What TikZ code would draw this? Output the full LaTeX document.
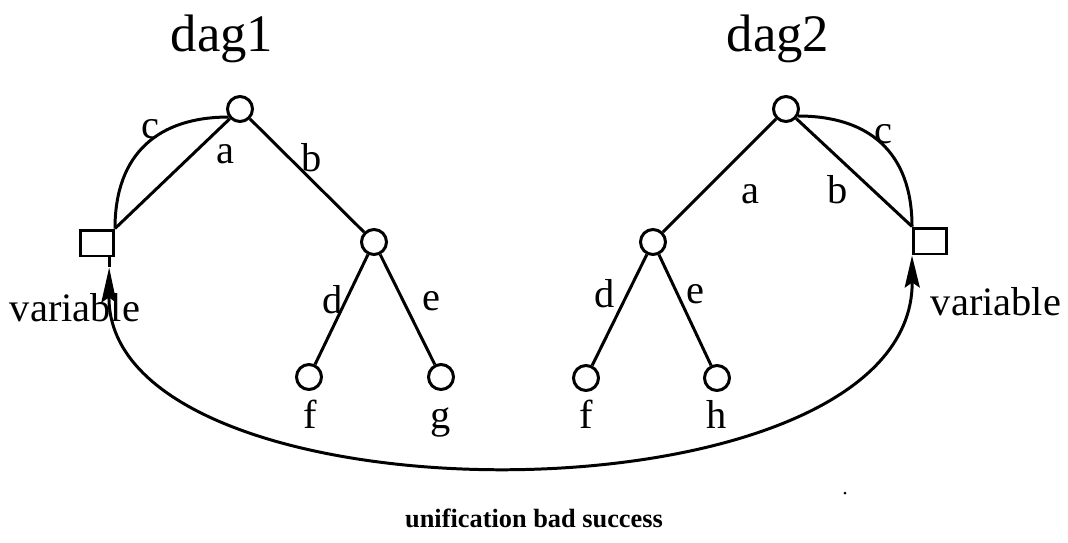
\documentclass[tikz,border=0pt]{standalone}
\usepackage{fontspec}
\setmainfont{Liberation Serif}
\usetikzlibrary{arrows.meta}

\begin{document}
\begin{tikzpicture}[x=0.02cm,y=-0.02cm,line width=1.7pt,
    vtx/.style={draw,circle,minimum size=0.5cm,inner sep=0pt},
    varbox/.style={draw,rectangle,minimum width=0.66cm,minimum height=0.52cm,inner sep=0pt},
    lbl/.style={anchor=base,inner sep=0pt,font=\fontsize{23}{27}\selectfont},
    dagtitle/.style={anchor=base,inner sep=0pt,font=\fontsize{30}{35}\selectfont},
    unifyarc/.style={{Stealth[length=0.7cm,width=0.3cm,inset=0.1cm]}-{Stealth[length=0.64cm,width=0.3cm,inset=0.1cm]}}]
  \useasboundingbox (0,0) rectangle (1068,542);
  % titles
  \node[dagtitle] (t1) at (222,51) {dag1};
  \node[dagtitle] (t2) at (778,51) {dag2};
  % dag1
  \node[vtx] (r1) at (240,109) {};
  \node[varbox] (v1) at (97,243) {};
  \node[vtx] (m1) at (374,242) {};
  \node[vtx] (f1) at (309,377) {};
  \node[vtx] (g1) at (441,377) {};
  \draw (r1) -- (v1.north east);
  \draw (r1.215) .. controls +(-70,0) and +(0,-75) .. (v1.north east);
  \draw (r1) -- (m1);
  \draw (m1) -- (f1);
  \draw (m1) -- (g1);
  \node[lbl] (lc1) at (150,138) {c};
  \node[lbl] (la1) at (225,163) {a};
  \node[lbl] (lb1) at (312,171) {b};
  \node[lbl] (ld1) at (333,313) {d};
  \node[lbl] (le1) at (431,310) {e};
  \node[lbl] (nf1) at (310,428) {f};
  \node[lbl] (ng1) at (441,428) {g};
  \node[lbl] (var1) at (75,321) {variable};
  % dag2
  \node[vtx] (r2) at (786,109) {};
  \node[vtx] (m2) at (653,242) {};
  \node[varbox] (v2) at (930,241) {};
  \node[vtx] (f2) at (586,378) {};
  \node[vtx] (h2) at (717,378) {};
  \draw (r2) -- (m2);
  \draw (r2) -- (v2.north west);
  \draw (r2.330) .. controls +(70,0) and +(0,-75) .. (v2.north west);
  \draw (m2) -- (f2);
  \draw (m2) -- (h2);
  \node[lbl] (la2) at (750,203) {a};
  \node[lbl] (lb2) at (838,203) {b};
  \node[lbl] (lc2) at (883,143) {c};
  \node[lbl] (ld2) at (605,307) {d};
  \node[lbl] (le2) at (695,303) {e};
  \node[lbl] (nf2) at (586,428) {f};
  \node[lbl] (nh2) at (717,428) {h};
  \node[lbl] (var2) at (996,315) {variable};
  % unification
  \path (v1.-50) ++(0,10) coordinate (s1);
  \draw (v1.-50) -- (s1);
  \draw[unifyarc] (s1) .. controls +(-2,262) and +(2,275) .. (v2.south west);
  \node[anchor=base,inner sep=0pt,font=\bfseries\fontsize{15}{18}\selectfont] (uni) at (534,527) {unification bad success};
  \fill (845,493) circle (1.5);
\end{tikzpicture}
\end{document}
